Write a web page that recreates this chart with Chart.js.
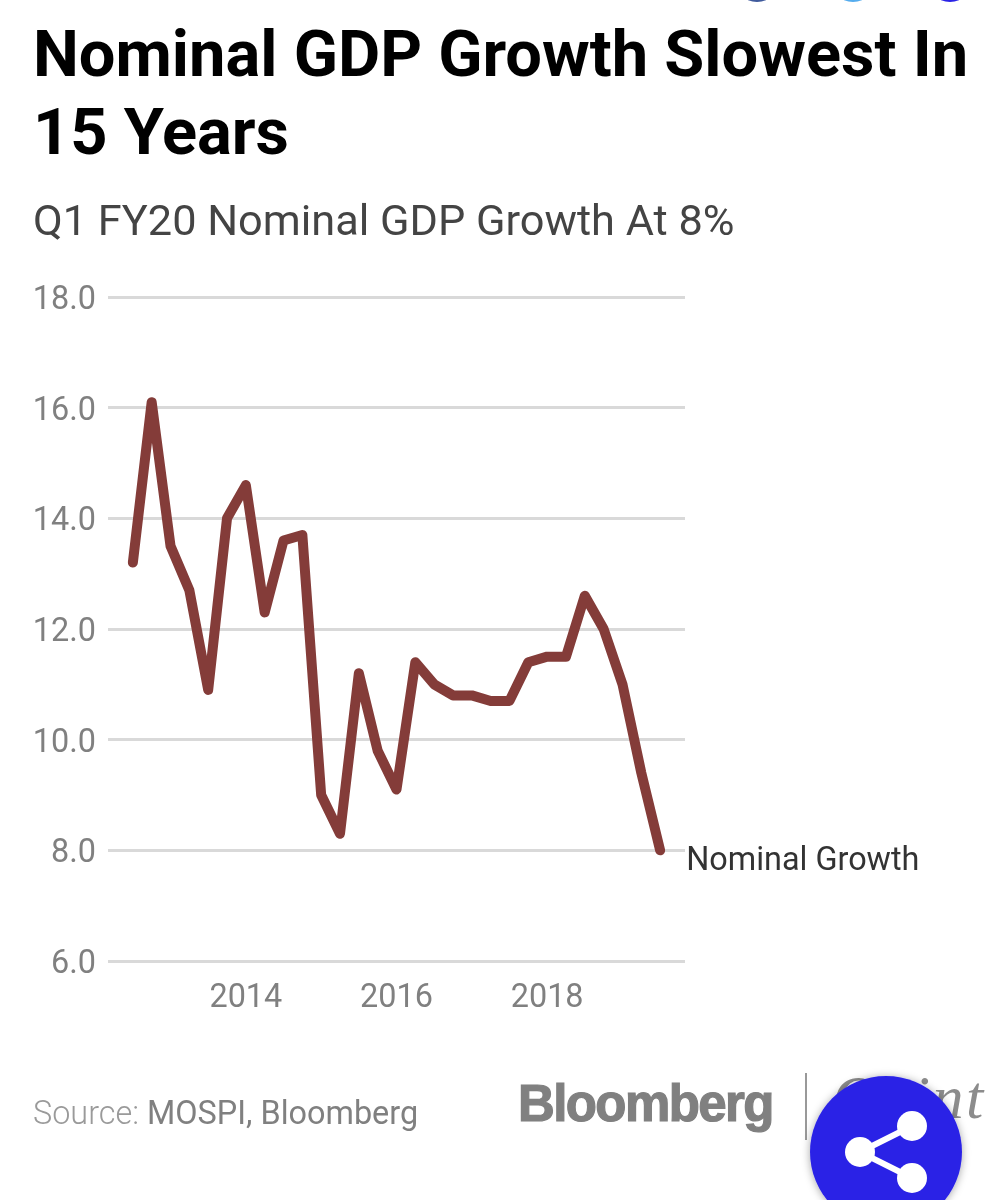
<!DOCTYPE html>
<html>
<head>
<meta charset="utf-8">
<title>Nominal GDP Growth Slowest In 15 Years</title>
<script src="https://cdn.jsdelivr.net/npm/chart.js@4"></script>
<style>
  html, body { margin: 0; padding: 0; background: #fff; }
  body { width: 1008px; height: 1200px; position: relative; overflow: hidden; font-family: Roboto, sans-serif; }
  #myChart { position: absolute; left: 0; top: 0; }
  .txt { position: absolute; white-space: nowrap; }
  #title { left: 33px; top: 15px; font-size: 65px; line-height: 78px; font-weight: 700; color: #000; }
  #subtitle { left: 33px; top: 198px; font-size: 43.3px; line-height: 46px; color: #444; }
  #source { left: 33px; top: 1095px; font-size: 32.4px; line-height: 36px; color: #808080; }
  #source span { color: #9a9a9a; font-weight: 300; }
  #bloomberg { left: 518px; top: 1074px; font-family: "Liberation Sans", sans-serif; font-size: 51px; line-height: 60px; font-weight: 700; color: #808080; letter-spacing: -1.6px; -webkit-text-stroke: 1.2px #808080; }
  #quint { left: 832px; top: 1063px; font-family: "Liberation Serif", serif; font-style: italic; font-size: 62px; line-height: 68px; color: #8c8c8c; letter-spacing: 2.5px; }
  #sep { position: absolute; left: 805px; top: 1073px; width: 1.5px; height: 67px; background: #999; }
  #share { position: absolute; left: 800px; top: 1066px; }
  .dot { position: absolute; top: -44px; width: 46px; height: 46px; border-radius: 50%; }
</style>
</head>
<body>
<canvas id="myChart" width="1008" height="1200"></canvas>
<div class="dot" style="left:734px;background:#3f5a9c"></div>
<div class="dot" style="left:830px;background:#55acee"></div>
<div class="dot" style="left:927px;background:#2b24e6"></div>
<div class="txt" id="title">Nominal GDP Growth Slowest In<br>15 Years</div>
<div class="txt" id="subtitle">Q1 FY20 Nominal GDP Growth At 8%</div>
<div class="txt" id="source"><span>Source:</span> MOSPI, Bloomberg</div>
<div class="txt" id="bloomberg">Bloomberg</div>
<div id="sep"></div>
<div class="txt" id="quint">Quint</div>
<svg id="share" width="172" height="134" viewBox="0 0 172 134" style="overflow:visible">
  <defs><filter id="sh" x="-20%" y="-20%" width="140%" height="140%"><feDropShadow dx="0" dy="1" stdDeviation="4" flood-color="#000" flood-opacity="0.35"/></filter></defs>
  <circle cx="86" cy="86" r="76" fill="#2b24e6" filter="url(#sh)"/>
  <path d="M112 60 L60 86 L112 112" fill="none" stroke="#fff" stroke-width="6"/>
  <circle cx="112" cy="60" r="15" fill="#fff"/>
  <circle cx="60" cy="86" r="15" fill="#fff"/>
  <circle cx="112" cy="112" r="15" fill="#fff"/>
</svg>
<script>
const ctx = document.getElementById("myChart");

const quarters = [2012.5, 2012.75, 2013, 2013.25, 2013.5, 2013.75, 2014, 2014.25, 2014.5, 2014.75,
  2015, 2015.25, 2015.5, 2015.75, 2016, 2016.25, 2016.5, 2016.75, 2017, 2017.25,
  2017.5, 2017.75, 2018, 2018.25, 2018.5, 2018.75, 2019, 2019.25, 2019.5];
const nominalGrowth = [13.2, 16.1, 13.5, 12.7, 10.9, 14.0, 14.6, 12.3, 13.6, 13.7,
  9.0, 8.3, 11.2, 9.8, 9.1, 11.4, 11.0, 10.8, 10.8, 10.7,
  10.7, 11.4, 11.5, 11.5, 12.6, 12.0, 11.0, 9.4, 8.0];
const xTicks = [2014, 2016, 2018];
const seriesName = "Nominal Growth";

// series name sits next to the last point instead of a legend
const endLabel = {
  id: "endLabel",
  afterDatasetsDraw(chart) {
    const pts = chart.getDatasetMeta(0).data;
    const last = pts[pts.length - 1];
    const c = chart.ctx;
    c.save();
    c.font = "32.4px Roboto";
    c.fillStyle = "#333";
    c.textBaseline = "middle";
    c.fillText(seriesName, last.x + 26, last.y + 12);
    c.restore();
  }
};

new Chart(ctx, {
  type: "line",
  data: {
    datasets: [{
      label: seriesName,
      data: quarters.map((q, i) => ({ x: q, y: nominalGrowth[i] })),
      borderColor: "#843c39",
      borderWidth: 10,
      borderCapStyle: "round",
      borderJoinStyle: "round",
      pointRadius: 0,
      tension: 0
    }]
  },
  plugins: [endLabel],
  options: {
    responsive: false,
    animation: false,
    layout: { padding: { left: 0, right: 323, top: 297, bottom: 189 } },
    plugins: { legend: { display: false }, tooltip: { enabled: false } },
    scales: {
      x: {
        type: "linear",
        min: 2012.17,
        max: 2019.83,
        afterBuildTicks: (axis) => { axis.ticks = xTicks.map(v => ({ value: v })); },
        afterFit: (axis) => { axis.height = 50; },
        grid: { display: false },
        border: { display: false },
        ticks: {
          color: "#808080",
          font: { family: "Roboto", size: 32.4 },
          padding: 10,
          maxRotation: 0,
          callback: (v) => String(v)
        }
      },
      y: {
        min: 6,
        max: 18,
        afterFit: (axis) => { axis.width = 108; },
        grid: { color: "#d9d9d9", lineWidth: 3, drawTicks: false },
        border: { display: false },
        ticks: {
          stepSize: 2,
          color: "#808080",
          font: { family: "Roboto", size: 32.4 },
          padding: 12,
          labelOffset: 4,
          callback: (v) => v.toFixed(1)
        }
      }
    }
  }
});
</script>
</body>
</html>
